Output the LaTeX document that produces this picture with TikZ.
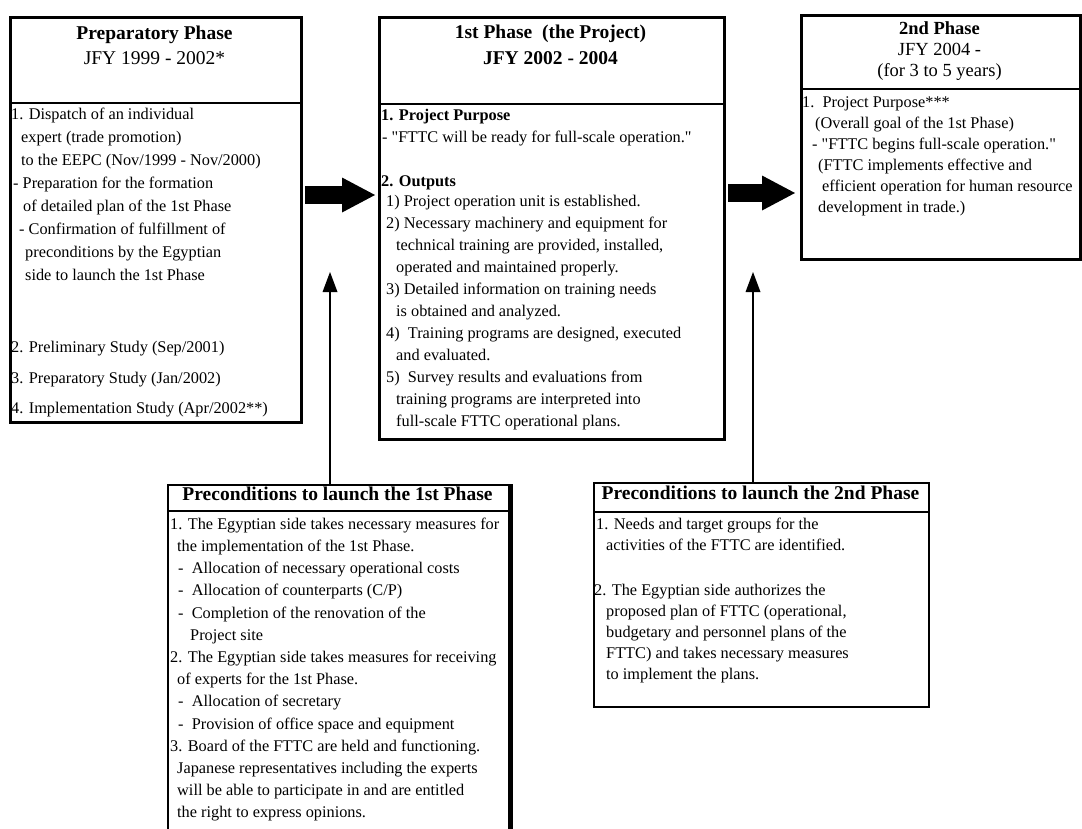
\documentclass[tikz,border=0pt]{standalone}
\usepackage{fontspec}
\setmainfont{Liberation Serif}
% a family without the TeX input mapping, so " stays a straight quote
\newfontfamily\docfont{Liberation Serif}
\usetikzlibrary{arrows.meta,calc}
\begin{document}
\begin{tikzpicture}[x=1pt,y=-1pt,
  panel/.style={draw=black, line width=3.4pt, inner sep=0pt, anchor=north west},
  cond/.style={draw=black, line width=2.4pt, inner sep=0pt, anchor=north west},
  divider/.style={line width=2.6pt},
  hdr/.style={inner sep=0pt, anchor=mid, font=\docfont\fontsize{19.5}{22}\selectfont\bfseries},
  hdrreg/.style={inner sep=0pt, anchor=mid, font=\docfont\fontsize{19.5}{22}\selectfont},
  txt/.style={inner sep=0pt, anchor=mid west, font=\docfont\fontsize{16.3}{20}\selectfont},
  txtb/.style={txt, font=\docfont\fontsize{16.3}{20}\selectfont\bfseries},
  bigarrow/.style={line width=18pt, -{Triangle[length=33pt,width=35pt,line width=0pt]}},
  uparrow/.style={line width=2pt, -{Triangle[length=20pt,width=15pt,line width=0pt]}}]
\useasboundingbox (0,0) rectangle (1082,828);

% ---------- the three phase panels ----------
\node[panel, minimum width=291pt, minimum height=405pt] (prep) at (9,16) {};
\node[panel, minimum width=345pt, minimum height=422pt] (proj) at (378,16) {};
\node[panel, minimum width=279pt, minimum height=244pt] (second) at (800,14) {};

\draw[divider] (prep.west |- 0,103) -- (prep.east |- 0,103);
\draw[divider] (proj.west |- 0,104) -- (proj.east |- 0,104);
\draw[divider] (second.west |- 0,89) -- (second.east |- 0,89);

% panel titles
\node[hdr]    (prepT1) at (154.5,37) {Preparatory Phase};
\node[hdrreg] (prepT2) at (154.5,62) {JFY 1999 - 2002*};
\node[hdr]    (projT1) at (550.5,36) {1st Phase\ \ (the Project)};
\node[hdr]    (projT2) at (550.5,62) {JFY 2002 - 2004};
\node[hdr, font=\docfont\fontsize{18.5}{21}\selectfont\bfseries]
              (secT1)  at (939.5,32) {2nd Phase};
\node[hdrreg, font=\docfont\fontsize{18.5}{21}\selectfont]
              (secT2)  at (939.5,53.5) {JFY 2004 -};
\node[hdrreg, font=\docfont\fontsize{18.5}{21}\selectfont]
              (secT3)  at (939.5,74.5) {(for 3 to 5 years)};

% preparatory phase contents
\foreach \x/\y/\t [count=\i] in {
  11/117/{1. Dispatch of an individual},
  21/140/{expert (trade promotion)},
  21/163/{to the EEPC (Nov/1999 - Nov/2000)},
  13/186/{- Preparation for the formation},
  23/209/{of detailed plan of the 1st Phase},
  19/232/{- Confirmation of fulfillment of},
  25/255/{preconditions by the Egyptian},
  25/278/{side to launch the 1st Phase},
  11/350/{2. Preliminary Study (Sep/2001)},
  11/381/{3. Preparatory Study (Jan/2002)},
  11/411/{4. Implementation Study (Apr/2002**)}}
  \node[txt] (prepL\i) at (\x,\y) {\t};

% first phase contents
\node[txtb] (projH1) at (381,118) {1. Project Purpose};
\node[txt]  (projP1) at (382,140) {- "FTTC will be ready for full-scale operation."};
\node[txtb] (projH2) at (381,184) {2. Outputs};
\foreach \x/\y/\t [count=\i] in {
  386/204/{1) Project operation unit is established.},
  386/226/{2) Necessary machinery and equipment for},
  396/248/{technical training are provided, installed,},
  396/270/{operated and maintained properly.},
  386/292/{3) Detailed information on training needs},
  396/314/{is obtained and analyzed.},
  386/336/{4)\ \ Training programs are designed, executed},
  396/358/{and evaluated.},
  386/380/{5)\ \ Survey results and evaluations from},
  396/402/{training programs are interpreted into},
  396/424/{full-scale FTTC operational plans.}}
  \node[txt] (projL\i) at (\x,\y) {\t};

% second phase contents
\foreach \x/\y/\t [count=\i] in {
  802/105/{1.\ \ Project Purpose***},
  815/126/{(Overall goal of the 1st Phase)},
  812/147/{- "FTTC begins full-scale operation."},
  818/168/{(FTTC implements effective and},
  822/189/{efficient operation for human resource},
  818/210/{development in trade.)}}
  \node[txt] (secL\i) at (\x,\y) {\t};

% ---------- preconditions panels ----------
\node[cond, minimum width=341pt, minimum height=350pt] (preA) at (167,484) {};
\node[cond, minimum width=335pt, minimum height=224pt] (preB) at (593,482) {};
\draw[line width=4.6pt] (preA.north east) -- (preA.south east);
\draw[divider, line width=2.2pt] (preA.west |- 0,511) -- (preA.east |- 0,511);
\draw[divider, line width=2.2pt] (preB.west |- 0,512) -- (preB.east |- 0,512);

\node[hdr] (preAT) at (337.5,498) {Preconditions to launch the 1st Phase};
\node[hdr] (preBT) at (760.5,497) {Preconditions to launch the 2nd Phase};

\foreach \x/\y/\t [count=\i] in {
  170/527/{1. The Egyptian side takes necessary measures for},
  177/549/{the implementation of the 1st Phase.},
  178/571/{-\ \ Allocation of necessary operational costs},
  178/593/{-\ \ Allocation of counterparts (C/P)},
  178/616/{-\ \ Completion of the renovation of the},
  190/638/{Project site},
  170/660/{2. The Egyptian side takes measures for receiving},
  177/682/{of experts for the 1st Phase.},
  178/704/{-\ \ Allocation of secretary},
  178/727/{-\ \ Provision of office space and equipment},
  170/749/{3. Board of the FTTC are held and functioning.},
  177/771/{Japanese representatives including the experts},
  177/793/{will be able to participate in and are entitled},
  177/815/{the right to express opinions.}}
  \node[txt] (preAL\i) at (\x,\y) {\t};

\foreach \x/\y/\t [count=\i] in {
  596/527/{1. Needs and target groups for the},
  606/548/{activities of the FTTC are identified.},
  594/593/{2. The Egyptian side authorizes the},
  606/614/{proposed plan of FTTC (operational,},
  606/635/{budgetary and personnel plans of the},
  606/656/{FTTC) and takes necessary measures},
  606/677/{to implement the plans.}}
  \node[txt] (preBL\i) at (\x,\y) {\t};

% ---------- connectors ----------
\draw[bigarrow, shorten <=2pt, shorten >=3pt] (prep.east |- 0,195) -- (proj.west |- 0,195);
\draw[bigarrow, shorten <=2pt, shorten >=5pt] (proj.east |- 0,193) -- (second.west |- 0,193);

\coordinate (tipA) at (330,272);
\coordinate (tipB) at (753,272);
\draw[uparrow] (preA.north -| tipA) -- (tipA);
\draw[uparrow] (preB.north -| tipB) -- (tipB);
\end{tikzpicture}
\end{document}
